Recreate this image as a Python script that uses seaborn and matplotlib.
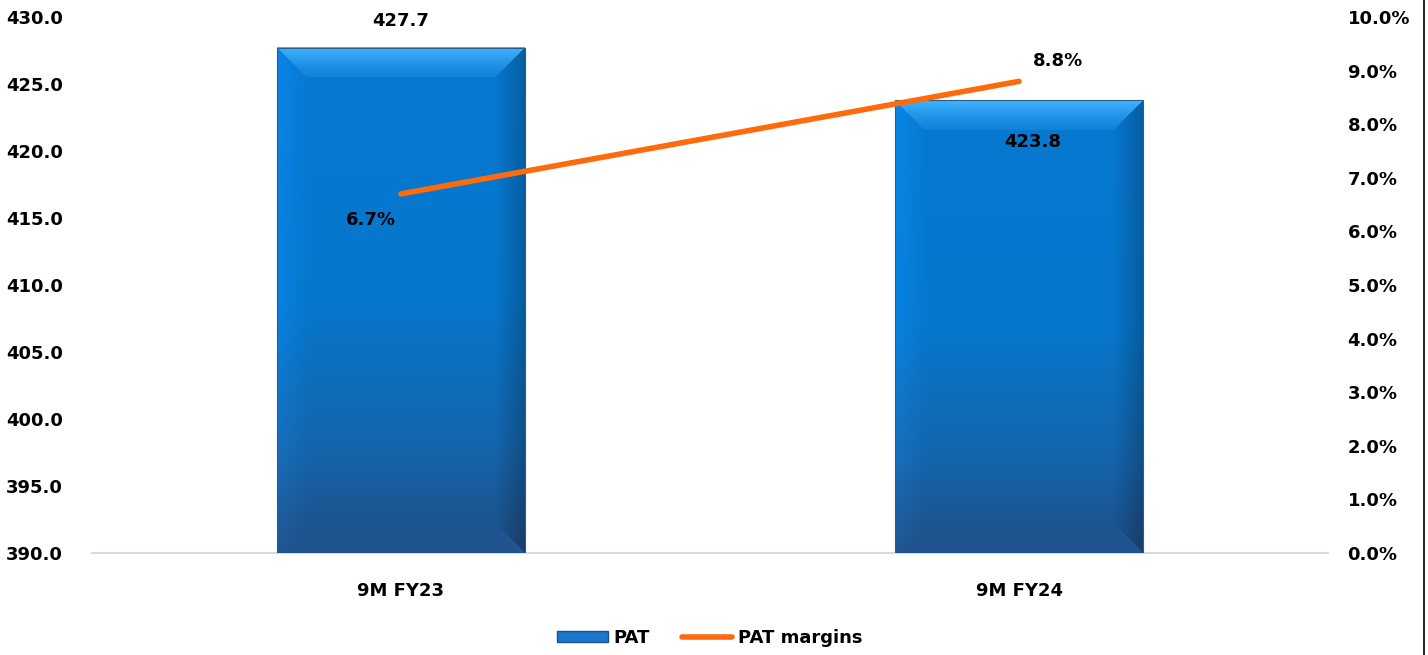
import numpy as np
import pandas as pd
import matplotlib
matplotlib.use("Agg")
import matplotlib.pyplot as plt
from matplotlib.colors import to_rgb
from matplotlib.patches import Patch
from matplotlib.lines import Line2D
import seaborn as sns

# Data
periods = ["9M FY23", "9M FY24"]
pat = [427.7, 423.8]
pat_margin = [6.7, 8.8]          # percent
left_ticks = [390.0, 395.0, 400.0, 405.0, 410.0, 415.0, 420.0, 425.0, 430.0]
right_ticks = [0.0, 1.0, 2.0, 3.0, 4.0, 5.0, 6.0, 7.0, 8.0, 9.0, 10.0]

sns.set_theme(style="white")
plt.rcParams["font.family"] = ["DejaVu Sans"]
plt.rcParams["text.color"] = "black"
plt.rcParams["xtick.color"] = "black"
plt.rcParams["ytick.color"] = "black"
plt.rcParams["xtick.labelcolor"] = "black"
plt.rcParams["ytick.labelcolor"] = "black"

ORANGE = "#FF6A0C"
FS = 13
FW = "bold"

fig = plt.figure(figsize=(14.28, 6.55), dpi=100)
ax = fig.add_axes([0.0644, 0.1557, 0.8656, 0.8183])

df = pd.DataFrame({"period": periods, "PAT": pat})
sns.barplot(data=df, x="period", y="PAT", ax=ax, width=0.4,
            color="#0878D0", saturation=1, linewidth=0)

ax.set_ylim(left_ticks[0], left_ticks[-1])
ax.set_xlim(-0.5, len(periods) - 0.5)
fig.canvas.draw()


def bevel_image(w, h, bev=30):
    """RGBA texture for a bevelled bar shaded darker towards its base."""
    yy, xx = np.mgrid[0:h, 0:w].astype(float)
    t = yy / max(h - 1, 1)
    stops = [0.0, 0.5, 0.78, 1.0]
    cols = np.array([to_rgb(c) for c in ("#0879D2", "#0677CC", "#1466AE", "#1F4E85")])
    base = np.stack([np.interp(t, stops, cols[:, k]) for k in range(3)], axis=-1)
    dl, dr, dt, db = xx, w - 1 - xx, yy, h - 1 - yy
    dmin = np.minimum(np.minimum(dl, dr), np.minimum(dt, db))
    inb = dmin < bev
    fade = np.clip(1 - dmin / bev, 0, 1)[..., None]
    top_m = (inb & (dt == dmin))[..., None]
    bot_m = (inb & (db == dmin))[..., None] & ~top_m
    left_m = (inb & (dl == dmin))[..., None] & ~top_m & ~bot_m
    right_m = (inb & (dr == dmin))[..., None] & ~top_m & ~bot_m & ~left_m
    light = np.array(to_rgb("#40B4FF"))
    img = base.copy()
    img = np.where(top_m, img + (light - img) * (0.15 + 0.85 * fade ** 1.3), img)
    img = np.where(left_m, img * (1.0 + 0.10 * fade), img)
    img = np.where(right_m, img * (1.0 - 0.22 * fade), img)
    img = np.where(bot_m, img * (1.0 + 0.08 * fade), img)
    img = np.clip(img, 0, 1)
    alpha = np.ones((h, w, 1))
    return np.concatenate([img, alpha], axis=2)


ybot_view = ax.get_ylim()[0]
for p in list(ax.patches):
    x0, y0 = p.get_x(), p.get_y()
    w, h = p.get_width(), p.get_height()
    yb = max(y0, ybot_view)
    yt = y0 + h
    (px0, py0), (px1, py1) = ax.transData.transform([(x0, yb), (x0 + w, yt)])
    pw, ph = max(int(round(px1 - px0)), 2), max(int(round(py1 - py0)), 2)
    tex = bevel_image(pw, ph)
    ax.imshow(tex, extent=(x0, x0 + w, yb, yt), aspect="auto",
              interpolation="bilinear", zorder=2, origin="upper")
    p.set_facecolor("none")
    p.set_edgecolor("#2A5C8C")
    p.set_linewidth(0.8)
    p.set_zorder(3)

ax.set_xlim(-0.5, len(periods) - 0.5)
ax.set_ylim(left_ticks[0], left_ticks[-1])
ax.set_yticks(left_ticks)
ax.set_yticklabels([f"{v:.1f}" for v in left_ticks], fontsize=FS, fontweight=FW,
                   color="black")
ax.set_xlabel("")
ax.set_ylabel("")
ax.tick_params(axis="y", length=0, pad=21)
ax.tick_params(axis="x", length=0, pad=21)
for s in ax.spines.values():
    s.set_visible(False)
ax.axhline(left_ticks[0], color="#D9D9D9", lw=1.5, zorder=1, clip_on=False)
ax.grid(False)

# Bar value labels
ax.annotate(f"{pat[0]:.1f}", (0, pat[0]), xytext=(0, 19), textcoords="offset points",
            ha="center", va="center", fontsize=FS, fontweight=FW, color="black", zorder=6)
ax.annotate(f"{pat[1]:.1f}", (1, pat[1]), xytext=(10, -30), textcoords="offset points",
            ha="center", va="center", fontsize=FS, fontweight=FW, color="black", zorder=6)

# Margin line on secondary axis
ax2 = ax.twinx()
sns.lineplot(x=[0, 1], y=pat_margin, ax=ax2, color=ORANGE, linewidth=4,
             solid_capstyle="round", zorder=5)
ax2.set_xlim(-0.5, len(periods) - 0.5)
ax2.set_ylim(right_ticks[0], right_ticks[-1])
ax2.set_yticks(right_ticks)
ax2.set_yticklabels([f"{v:.1f}%" for v in right_ticks], fontsize=FS, fontweight=FW,
                    color="black")
ax2.tick_params(axis="y", length=0, pad=14)
ax2.set_ylabel("")
ax2.grid(False)
for s in ax2.spines.values():
    s.set_visible(False)

ax2.annotate(f"{pat_margin[0]:.1f}%", (0, pat_margin[0]), xytext=(-22, -19),
             textcoords="offset points", ha="center", va="center",
             fontsize=FS, fontweight=FW, color="black", zorder=6)
ax2.annotate(f"{pat_margin[1]:.1f}%", (1, pat_margin[1]), xytext=(28, 15),
             textcoords="offset points", ha="center", va="center",
             fontsize=FS, fontweight=FW, color="black", zorder=6)

ax.set_xticks(range(len(periods)))
ax.set_xticklabels(periods, fontsize=FS, fontweight=FW, color="black")

# Legend
handles = [Patch(facecolor="#1A78CC", edgecolor="#1F4F88", linewidth=1.0),
           Line2D([0], [0], color=ORANGE, lw=4, solid_capstyle="round")]
leg = fig.legend(handles, ["PAT", "PAT margins"], loc="center",
                 bbox_to_anchor=(0.497, 0.026), ncol=2, frameon=False,
                 prop={"size": FS, "weight": FW}, handlelength=2.8,
                 handleheight=0.6, columnspacing=1.8, handletextpad=0.3,
                 labelcolor="black")

# Right-hand frame line
fig.add_artist(Line2D([0.9975, 0.9975], [0, 1], transform=fig.transFigure,
                      color="black", lw=1.2))

fig.savefig("out.png", dpi=100)
